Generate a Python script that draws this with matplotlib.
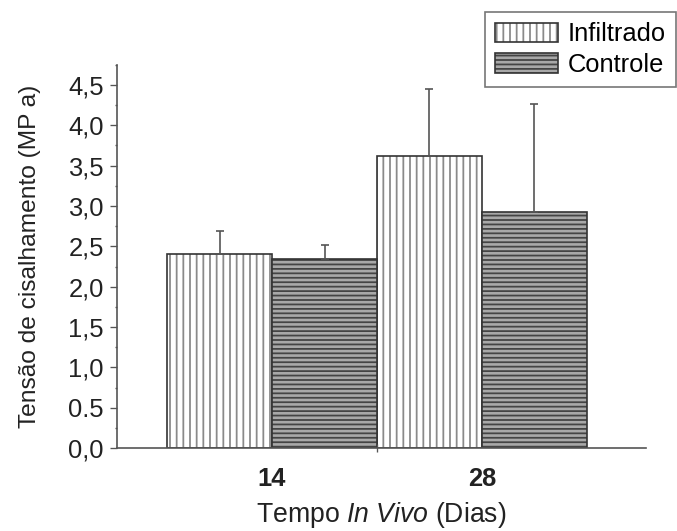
import matplotlib
matplotlib.use("Agg")
import matplotlib.pyplot as plt
import numpy as np
from matplotlib.ticker import MultipleLocator, FixedLocator

categories = ["14", "28"]
infiltrado = [2.40, 3.62]
infiltrado_err = [0.29, 0.83]
controle = [2.34, 2.92]
controle_err = [0.18, 1.34]
yticks = [0.0, 0.5, 1.0, 1.5, 2.0, 2.5, 3.0, 3.5, 4.0, 4.5]
ytick_labels = ["0,0", "0.5", "1,0", "1,5", "2,0", "2,5", "3,0", "3,5", "4,0", "4,5"]

DPI = 80
plt.rcParams['font.family'] = ['Liberation Sans', 'DejaVu Sans']
plt.rcParams['mathtext.fontset'] = 'custom'
plt.rcParams['mathtext.rm'] = 'Liberation Sans'
plt.rcParams['mathtext.it'] = 'Liberation Sans:italic'
plt.rcParams['hatch.linewidth'] = 1.6

fig = plt.figure(figsize=(677 / DPI, 531 / DPI), dpi=DPI)
ax = fig.add_axes([0.173, 0.156, 0.781, 0.722])

x = np.arange(len(categories))
w = 0.5
b1 = ax.bar(x - w / 2, infiltrado, w, facecolor='white', edgecolor='#333333',
            linewidth=1.5, hatch='||', label='Infiltrado')
for p in b1:
    p._hatch_color = matplotlib.colors.to_rgba('#8a8a8a')
b2 = ax.bar(x + w / 2, controle, w, facecolor='#a8a8a8', edgecolor='#333333',
            linewidth=1.5, hatch='---', label='Controle')
for p in b2:
    p._hatch_color = matplotlib.colors.to_rgba('#444444')

ax.errorbar(x - w / 2, infiltrado, yerr=[np.zeros(2), infiltrado_err], fmt='none',
            ecolor='#555555', elinewidth=1.5, capsize=4, capthick=1.5)
ax.errorbar(x + w / 2, controle, yerr=[np.zeros(2), controle_err], fmt='none',
            ecolor='#555555', elinewidth=1.5, capsize=4, capthick=1.5)

ax.set_xlim(-0.738, 1.781)
ax.set_ylim(0, 4.75)
ax.set_yticks(yticks)
ax.set_yticklabels(ytick_labels, fontsize=23, color='#222222')
ax.yaxis.set_minor_locator(MultipleLocator(0.25))
ax.set_xticks(x)
ax.set_xticklabels(categories, fontsize=23, fontweight='bold', color='#222222')
ax.xaxis.set_minor_locator(FixedLocator([0.5]))
ax.tick_params(axis='x', which='major', length=0, pad=17)
ax.tick_params(axis='x', which='minor', length=7, direction='inout', width=1.2, color='#555555')
ax.tick_params(axis='y', which='major', length=6, width=1.2, color='#555555', pad=6)
ax.tick_params(axis='y', which='minor', length=2, width=1.2, color='#555555')

for s in ['top', 'right']:
    ax.spines[s].set_visible(False)
for s in ['left', 'bottom']:
    ax.spines[s].set_color('#555555')
    ax.spines[s].set_linewidth(1.5)

ax.set_ylabel('Tensão de cisalhamento (MP a)', fontsize=22, color='#222222', labelpad=25)
ax.set_xlabel('Tempo $\\mathit{In\\ Vivo}$ (Dias)', fontsize=24, color='#222222', labelpad=8)

leg = fig.legend(handles=[b1, b2], loc='upper left', bbox_to_anchor=(0.716, 0.977),
                 fontsize=23, frameon=True, fancybox=False, edgecolor='#555555',
                 handlelength=2.45, handleheight=0.8, handletextpad=0.4,
                 borderpad=0.4, labelspacing=0.25, borderaxespad=0)
leg.get_frame().set_linewidth(1.5)

fig.savefig('out.png', dpi=DPI)
